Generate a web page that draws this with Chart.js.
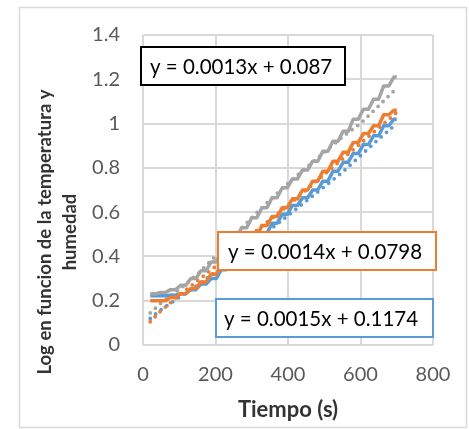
<!DOCTYPE html>
<html>
<head>
<meta charset="utf-8">
<script src="https://cdn.jsdelivr.net/npm/chart.js@4/dist/chart.umd.min.js"></script>
<style>
html,body{margin:0;padding:0;background:#fff;}
#wrap{width:469px;height:429px;position:relative;}
</style>
</head>
<body>
<div id="wrap"><canvas id="c" width="469" height="429"></canvas></div>
<script>
// ---- data ----
const stepX = [20,34,48,62,76,90,104,118,132,146,160,174,188,202,216,230,244,258,272,286,300,314,328,342,356,370,384,398,412,426,440,454,468,482,496,510,524,538,552,566,580,594,608,622,636,650,664,678,692,700];
const grayLine = [.231,.231,.237,.237,.25,.25,.27,.27,.30,.30,.335,.335,.375,.375,.425,.425,.48,.48,.53,.53,.575,.575,.62,.62,.665,.665,.71,.71,.75,.75,.79,.79,.83,.83,.875,.875,.92,.92,.965,.965,1.02,1.02,1.065,1.065,1.11,1.11,1.17,1.17,1.21,1.21];
const orangeLine = [.2,.2,.2,.2,.215,.215,.232,.232,.255,.255,.285,.285,.32,.32,.36,.36,.40,.40,.445,.445,.49,.49,.54,.54,.58,.58,.62,.62,.66,.66,.70,.70,.74,.74,.785,.785,.83,.83,.87,.87,.915,.915,.955,.955,.99,.99,1.04,1.04,1.06,1.06];
const blueLine = [.222,.222,.222,.222,.225,.225,.232,.232,.25,.25,.275,.275,.30,.30,.34,.34,.38,.38,.42,.42,.46,.46,.505,.505,.55,.55,.59,.59,.63,.63,.665,.665,.70,.70,.74,.74,.785,.785,.825,.825,.865,.865,.905,.905,.945,.945,.99,.99,1.02,1.02];
const dotX = [20,50,100,150,200,250,300,350,400,450,500,550,600,650,700];
const grayDots = [.145,.19,.25,.32,.40,.49,.575,.655,.73,.80,.87,.94,1.0,1.08,1.16];
const orangeDots = [.105,.155,.225,.29,.355,.43,.50,.565,.63,.70,.77,.84,.91,.98,1.05];
const blueDots = [.12,.16,.215,.27,.33,.39,.455,.52,.585,.65,.715,.78,.855,.93,1.0];
const xTicks = ['0','200','400','600','800'];
const yTicks = ['0','0.2','0.4','0.6','0.8','1','1.2','1.4'];
const equations = ['y = 0.0013x + 0.087','y = 0.0014x + 0.0798','y = 0.0015x + 0.1174'];
const xTitle = 'Tiempo (s)';
const yTitle = ['Log en funcion de la temperatura y','humedad'];

const GRAY='#A5A5A5', ORANGE='#ED7D31', BLUE='#5B9BD5';
const pts = (xs, ys) => xs.map((x,i)=>({x:x,y:ys[i]}));

const lineDs = (data, color, order) => ({data, borderColor:color, backgroundColor:color, borderWidth:3.5, pointRadius:0, tension:0, order, borderJoinStyle:'round'});
const dotDs = (data, color, order) => ({data, borderColor:color, backgroundColor:color, borderWidth:3.8, pointRadius:0, tension:0, order, borderDash:[0,7], borderCapStyle:'round'});

const deco = {
  id:'deco',
  beforeDraw(chart){
    const ctx = chart.ctx;
    ctx.save();
    ctx.fillStyle='#fff';
    ctx.fillRect(0,0,chart.width,chart.height);
    ctx.strokeStyle='#D9D9D9';
    ctx.lineWidth=1.5;
    ctx.strokeRect(19.5,7.5,447,420);
    ctx.restore();
  },
  afterDraw(chart){
    const ctx = chart.ctx;
    ctx.save();
    const boxes = [
      {x:141,y:47,w:204,h:38,c:'#000000',tx:150},
      {x:218,y:232,w:218,h:38,c:ORANGE,tx:228},
      {x:216,y:299,w:217,h:38,c:BLUE,tx:224}
    ];
    boxes.forEach((b,i)=>{
      ctx.fillStyle='#fff';
      ctx.fillRect(b.x,b.y,b.w,b.h);
      ctx.strokeStyle=b.c; ctx.lineWidth=2;
      ctx.strokeRect(b.x,b.y,b.w,b.h);
      ctx.fillStyle='#000';
      ctx.font='20.5px Lato';
      ctx.textBaseline='middle'; ctx.textAlign='left';
      ctx.fillText(equations[i], b.tx, b.y+b.h/2+1);
    });
    // axis titles
    ctx.fillStyle='#333333';
    ctx.font='bold 22px Lato';
    ctx.textAlign='center'; ctx.textBaseline='middle';
    ctx.fillText(xTitle, 288, 410);
    ctx.save();
    ctx.translate(45,232);
    ctx.rotate(-Math.PI/2);
    ctx.font='bold 18.5px Lato';
    ctx.fillText(yTitle[0],0,0);
    ctx.restore();
    ctx.save();
    ctx.translate(70,232);
    ctx.rotate(-Math.PI/2);
    ctx.font='bold 18.5px Lato';
    ctx.fillText(yTitle[1],0,0);
    ctx.restore();
    ctx.restore();
  }
};

new Chart(document.getElementById('c'), {
  type:'line',
  data:{datasets:[
    lineDs(pts(stepX,grayLine),GRAY,1),
    lineDs(pts(stepX,orangeLine),ORANGE,2),
    lineDs(pts(stepX,blueLine),BLUE,3),
    dotDs(pts(dotX,grayDots),GRAY,4),
    dotDs(pts(dotX,orangeDots),ORANGE,5),
    dotDs(pts(dotX,blueDots),BLUE,6)
  ]},
  options:{
    responsive:false, animation:false, devicePixelRatio:1,
    layout:{padding:{left:0,right:36,top:35,bottom:0}},
    plugins:{legend:{display:false},tooltip:{enabled:false}},
    scales:{
      x:{type:'linear',min:0,max:800,
        afterFit(s){s.height=84;},
        grid:{color:'#D9D9D9',lineWidth:2,drawTicks:false},
        border:{display:false},
        ticks:{stepSize:200,padding:18,color:'#595959',font:{family:'Lato',size:20},maxRotation:0,
          callback:(v)=>xTicks[Math.round(v/200)]}
      },
      y:{type:'linear',min:0,max:1.4,
        afterFit(s){s.width=143;},
        grid:{color:'#D9D9D9',lineWidth:2,drawTicks:false},
        border:{display:false},
        ticks:{stepSize:0.2,padding:23,color:'#595959',font:{family:'Lato',size:20},
          callback:(v)=>yTicks[Math.round(v/0.2)]}
      }
    }
  },
  plugins:[deco]
});
</script>
</body>
</html>
